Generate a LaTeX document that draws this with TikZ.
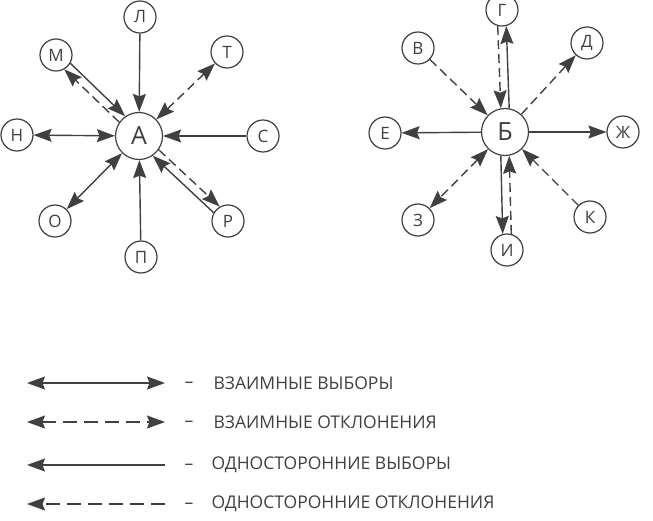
\documentclass[tikz,border=0pt]{standalone}
\usepackage{fontspec}
\setmainfont{Open Sans}
\usetikzlibrary{arrows.meta}

\definecolor{ink}{gray}{0.25}
\tikzset{
  small/.style={draw=ink, circle, line width=1.2pt, minimum size=32pt, inner sep=0pt, font=\fontsize{17}{17}\selectfont, text=ink},
  big/.style={draw=ink, circle, line width=1.2pt, minimum size=47pt, inner sep=0pt, font=\fontsize{25}{25}\selectfont, text=ink},
  tip/.style={-{Stealth[length=18pt,width=13pt,inset=2.5pt]}},
  both/.style={{Stealth[length=18pt,width=13pt,inset=2.5pt]}-{Stealth[length=18pt,width=13pt,inset=2.5pt]}},
  choice/.style={draw=ink, line width=1.4pt},
  refusal/.style={draw=ink, line width=1.4pt, dash pattern=on 9pt off 5pt},
  legend/.style={anchor=west, text=ink, font=\fontsize{17.5}{17.5}\selectfont}
}

\begin{document}
\begin{tikzpicture}[x=1pt,y=-1pt]
\useasboundingbox (0,0) rectangle (653,521);

% group A
\node[big] (A) at (139,136) {А};
\node[small] (l) at (140,17) {Л};
\node[small] (m) at (56,55) {М};
\node[small] (t) at (227,52) {Т};
\node[small] (n) at (17,135) {Н};
\node[small] (s) at (263,136) {С};
\node[small] (o) at (55,221) {О};
\node[small] (p) at (141,257) {П};
\node[small] (r) at (228,221) {Р};

\path[choice,tip] (l) -- (A);
\path[choice,tip] (m.-30) -- (A.125);
\path[refusal,tip] (A.145) -- (m.-60);
\path[refusal,both] (A) -- (t);
\path[choice,both] (A) -- (n);
\path[choice,tip] (s) -- (A);
\path[choice,both] (A) -- (o);
\path[choice,tip] (p) -- (A);
\path[refusal,tip] (A.-35) -- (r.120);
\path[choice,tip] (r.150) -- (A.-55);

% group B
\node[big] (B) at (505,132) {Б};
\node[small] (g) at (502,10) {Г};
\node[small] (v) at (418,48) {В};
\node[small] (d) at (587,43) {Д};
\node[small] (e) at (385,133) {Е};
\node[small] (zh) at (623,132) {Ж};
\node[small] (z) at (418,220) {З};
\node[small] (k) at (590,217) {К};
\node[small] (i) at (507,250) {И};

\path[refusal,tip] (g.-105) -- (B.100);
\path[choice,tip] (B.80) -- (g.-75);
\path[refusal,tip] (v) -- (B);
\path[refusal,tip] (B) -- (d);
\path[choice,tip] (B) -- (e);
\path[choice,tip] (B) -- (zh);
\path[refusal,both] (B) -- (z);
\path[refusal,tip] (k) -- (B);
\path[choice,tip] (B.-100) -- (i.105);
\path[refusal,tip] (i.75) -- (B.-80);

% legend
\coordinate (a1) at (27,383);
\coordinate (b1) at (165,383);
\coordinate (a2) at (27,422);
\coordinate (b2) at (165,422);
\coordinate (a3) at (27,465);
\coordinate (b3) at (165,465);
\coordinate (a4) at (27,504);
\coordinate (b4) at (165,504);
\path[choice,both] (a1) -- (b1);
\path[refusal,both,dash pattern=on 14pt off 7pt] (a2) -- (b2);
\path[choice,tip] (b3) -- (a3);
\path[refusal,tip,dash pattern=on 14pt off 7pt] (b4) -- (a4);

\node[legend] (d1) at (181,385) {–};
\node[legend] (d2) at (181,424) {–};
\node[legend] (d3) at (181,467) {–};
\node[legend] (d4) at (181,506) {–};
\node[legend] (t1) at (210,383) {ВЗАИМНЫЕ ВЫБОРЫ};
\node[legend] (t2) at (210,422) {ВЗАИМНЫЕ ОТКЛОНЕНИЯ};
\node[legend] (t3) at (208,465) {ОДНОСТОРОННИЕ ВЫБОРЫ};
\node[legend] (t4) at (208,504) {ОДНОСТОРОННИЕ ОТКЛОНЕНИЯ};
\end{tikzpicture}
\end{document}
